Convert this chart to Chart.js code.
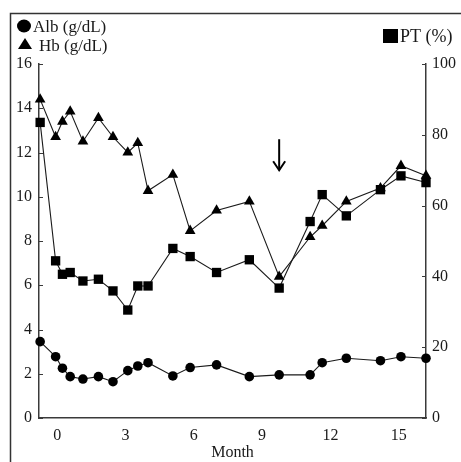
<!DOCTYPE html>
<html>
<head>
<meta charset="utf-8">
<script src="https://cdn.jsdelivr.net/npm/chart.js@4"></script>
<style>
html,body{margin:0;padding:0;background:#fff;}
#wrap{position:relative;width:461px;height:462px;}
</style>
</head>
<body>
<div id="wrap"><canvas id="c" width="461" height="462"></canvas></div>
<script>
const months = [-0.75, -0.07, 0.23, 0.57, 1.13, 1.81, 2.45, 3.1, 3.54, 3.99, 5.08, 5.84, 7.0, 8.44, 9.75, 11.11, 11.64, 12.7, 14.2, 15.1, 16.2];
const albValues = [3.45, 2.77, 2.25, 1.87, 1.76, 1.87, 1.64, 2.14, 2.35, 2.5, 1.9, 2.28, 2.4, 1.87, 1.95, 1.95, 2.5, 2.7, 2.59, 2.77, 2.7];
const hbValues = [14.4, 12.7, 13.4, 13.86, 12.5, 13.56, 12.7, 12.0, 12.43, 10.27, 11.0, 8.46, 9.38, 9.79, 6.39, 8.18, 8.69, 9.79, 10.39, 11.4, 10.95];
const ptValues = [83.5, 44.4, 40.6, 41.1, 38.7, 39.2, 35.9, 30.5, 37.3, 37.3, 47.9, 45.6, 41.1, 44.7, 36.7, 55.5, 63.1, 57.1, 64.5, 68.4, 66.5];
const monthTicks = [0, 3, 6, 9, 12, 15];
const leftTicks = [0, 2, 4, 6, 8, 10, 12, 14, 16];
const rightTicks = [0, 20, 40, 60, 80, 100];
const legendLabels = ['Alb (g/dL)', 'Hb (g/dL)', 'PT (%)'];
const xTitle = 'Month';
const arrowMonth = 9.75, arrowTop = 12.6, arrowBottom = 11.2;

const FONT = '"Liberation Serif", "DejaVu Serif", serif';
const INK = '#1a1a1a';
const AXIS = '#3a3a3a';

const pts = vals => vals.map((v, i) => ({x: months[i], y: v}));

const decor = {
  id: 'decor',
  beforeDraw(chart) {
    const ctx = chart.ctx;
    ctx.save();
    ctx.fillStyle = '#fff';
    ctx.fillRect(0, 0, chart.width, chart.height);
    ctx.strokeStyle = '#333';
    ctx.lineWidth = 1.5;
    ctx.strokeRect(10.5, 13.5, 460, 460);
    ctx.restore();
  },
  afterDraw(chart) {
    const ctx = chart.ctx;
    const xs = chart.scales.x, y = chart.scales.y, y2 = chart.scales.y2;
    ctx.save();
    // inside ticks
    ctx.strokeStyle = AXIS; ctx.lineWidth = 1;
    leftTicks.forEach(v => {
      const py = Math.round(y.getPixelForValue(v)) + 0.5;
      ctx.beginPath(); ctx.moveTo(y.right, py); ctx.lineTo(y.right + 4, py); ctx.stroke();
    });
    rightTicks.forEach(v => {
      const py = Math.round(y2.getPixelForValue(v)) + 0.5;
      ctx.beginPath(); ctx.moveTo(y2.left, py); ctx.lineTo(y2.left - 4, py); ctx.stroke();
    });
    // arrow
    const ax = xs.getPixelForValue(arrowMonth);
    const at = y.getPixelForValue(arrowTop), ab = y.getPixelForValue(arrowBottom);
    ctx.strokeStyle = '#000'; ctx.lineWidth = 2;
    ctx.beginPath(); ctx.moveTo(ax, at); ctx.lineTo(ax, ab); ctx.stroke();
    ctx.beginPath(); ctx.moveTo(ax - 6, ab - 9); ctx.lineTo(ax, ab); ctx.lineTo(ax + 6, ab - 9); ctx.stroke();
    // legend
    ctx.fillStyle = '#000';
    ctx.beginPath(); ctx.ellipse(24, 26, 7, 6.5, 0, 0, Math.PI * 2); ctx.fill();
    ctx.beginPath(); ctx.moveTo(25, 38); ctx.lineTo(32, 49); ctx.lineTo(18, 49); ctx.closePath(); ctx.fill();
    ctx.fillRect(383, 29, 15, 14);
    ctx.font = '17px ' + FONT;
    ctx.textBaseline = 'alphabetic';
    ctx.textAlign = 'left';
    ctx.fillStyle = INK;
    ctx.fillText(legendLabels[0], 33, 32);
    ctx.fillText(legendLabels[1], 39, 51);
    ctx.font = '18px ' + FONT;
    ctx.fillText(legendLabels[2], 400, 42);
    ctx.restore();
  }
};

const lineDs = (label, data, style, radius, axis) => ({
  label, data, yAxisID: axis,
  borderColor: INK, borderWidth: 1.1,
  pointStyle: style, pointRadius: radius, pointHoverRadius: radius,
  pointBackgroundColor: '#000', pointBorderColor: '#000', pointBorderWidth: 0,
  tension: 0, clip: false
});

new Chart(document.getElementById('c'), {
  type: 'line',
  data: {
    datasets: [
      lineDs(legendLabels[0], pts(albValues), 'circle', 4.8, 'y'),
      lineDs(legendLabels[1], pts(hbValues), 'triangle', 6.2, 'y'),
      lineDs(legendLabels[2], pts(ptValues), 'rect', 6.6, 'y2')
    ]
  },
  options: {
    responsive: false,
    animation: false,
    layout: {padding: {top: 64, left: 0, right: 0, bottom: 0}},
    plugins: {legend: {display: false}, tooltip: {enabled: false}},
    scales: {
      x: {
        type: 'linear', min: -0.8, max: 16.2,
        afterBuildTicks: s => { s.ticks = monthTicks.map(v => ({value: v})); },
        afterFit: s => { s.height = 44; },
        grid: {drawOnChartArea: false, drawTicks: false},
        border: {display: true, color: AXIS, width: 1.5},
        ticks: {padding: 8, color: INK, font: {family: FONT, size: 16}, maxRotation: 0, autoSkip: false},
        title: {display: true, text: xTitle, color: INK, font: {family: FONT, size: 16}, padding: {top: 0, bottom: 0}}
      },
      y: {
        type: 'linear', position: 'left', min: 0, max: 16,
        afterBuildTicks: s => { s.ticks = leftTicks.map(v => ({value: v})); },
        afterFit: s => { s.width = 39; },
        grid: {drawOnChartArea: false, drawTicks: false},
        border: {display: true, color: AXIS, width: 1.5},
        ticks: {padding: 7, color: INK, font: {family: FONT, size: 16}}
      },
      y2: {
        type: 'linear', position: 'right', min: 0, max: 100,
        afterBuildTicks: s => { s.ticks = rightTicks.map(v => ({value: v})); },
        afterFit: s => { s.width = 35; },
        grid: {drawOnChartArea: false, drawTicks: false},
        border: {display: true, color: AXIS, width: 1.5},
        ticks: {padding: 6, color: INK, font: {family: FONT, size: 16}}
      }
    }
  },
  plugins: [decor]
});
</script>
</body>
</html>
